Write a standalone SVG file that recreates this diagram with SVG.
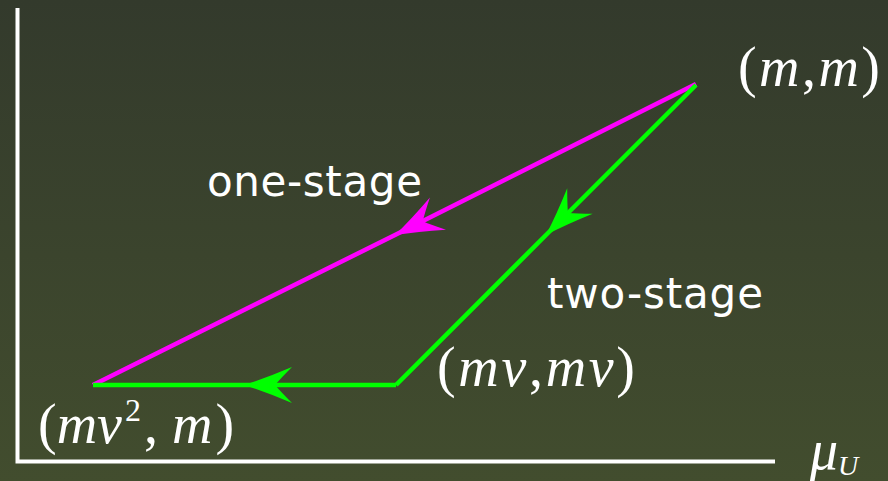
<svg xmlns="http://www.w3.org/2000/svg" width="888" height="481" viewBox="0 0 888 481">
<defs>
<linearGradient id="bg" x1="0" y1="0" x2="0" y2="1">
<stop offset="0" stop-color="#333a2c"/>
<stop offset="1" stop-color="#424d2e"/>
</linearGradient>
<marker id="arrM" markerUnits="userSpaceOnUse" orient="auto" markerWidth="60" markerHeight="40" viewBox="-50 -20 60 40" refX="0" refY="0" overflow="visible">
<path d="M0,0 Q-22,-7 -48,-18 Q-37,-7 -31,0 Q-37,7 -48,18 Q-22,7 0,0 Z" fill="#ff00ff"/>
</marker>
<marker id="arrG" markerUnits="userSpaceOnUse" orient="auto" markerWidth="60" markerHeight="40" viewBox="-50 -20 60 40" refX="0" refY="0" overflow="visible">
<path d="M0,0 Q-22,-7 -48,-18 Q-37,-7 -31,0 Q-37,7 -48,18 Q-22,7 0,0 Z" fill="#00ff00"/>
</marker>
</defs>
<style>
.axis{stroke:#ffffff;stroke-width:4;fill:none}
.mag{stroke:#ff00ff;stroke-width:4.5;fill:none;marker-mid:url(#arrM)}
.grn{stroke:#00ff00;stroke-width:4.5;fill:none;marker-mid:url(#arrG)}
.lbl{font-family:"DejaVu Sans",sans-serif;font-size:42px;fill:#ffffff}
.math{font-family:"Liberation Serif","DejaVu Serif",serif;font-size:56px;fill:#ffffff}
.it{font-style:italic}
</style>
<rect width="888" height="481" fill="url(#bg)"/>
<g id="axes">
<polyline class="axis" points="17.5,8 17.5,461.5 775,461.5"/>
</g>
<g id="connectors">
<path class="mag" d="M696,84 L395,235 L93,385"/>
<path class="grn" d="M696,85 L546,235 L396,385"/>
<path class="grn" d="M396,385 L244,385 L93,385"/>
</g>
<g id="node-mm">
<text class="math" x="738" y="86" textLength="142" lengthAdjust="spacing">(<tspan class="it">m</tspan>,<tspan class="it">m</tspan>)</text>
</g>
<g id="node-mvmv">
<text class="math" x="437" y="386" textLength="198" lengthAdjust="spacing">(<tspan class="it">mv</tspan>,<tspan class="it">mv</tspan>)</text>
</g>
<g id="node-mv2m">
<text class="math" x="38" y="443">(<tspan class="it">mv</tspan><tspan font-size="32" dy="-22" dx="3">2</tspan><tspan dy="22" dx="3">,</tspan><tspan class="it" dx="14">m</tspan><tspan dx="3">)</tspan></text>
</g>
<g id="label-one">
<text class="lbl" x="207" y="196" textLength="215" lengthAdjust="spacing">one-stage</text>
</g>
<g id="label-two">
<text class="lbl" x="547" y="308" textLength="216" lengthAdjust="spacing">two-stage</text>
</g>
<g id="axis-label">
<text class="math it" x="810" y="469">μ<tspan font-size="28" dy="6">U</tspan></text>
</g>
</svg>
